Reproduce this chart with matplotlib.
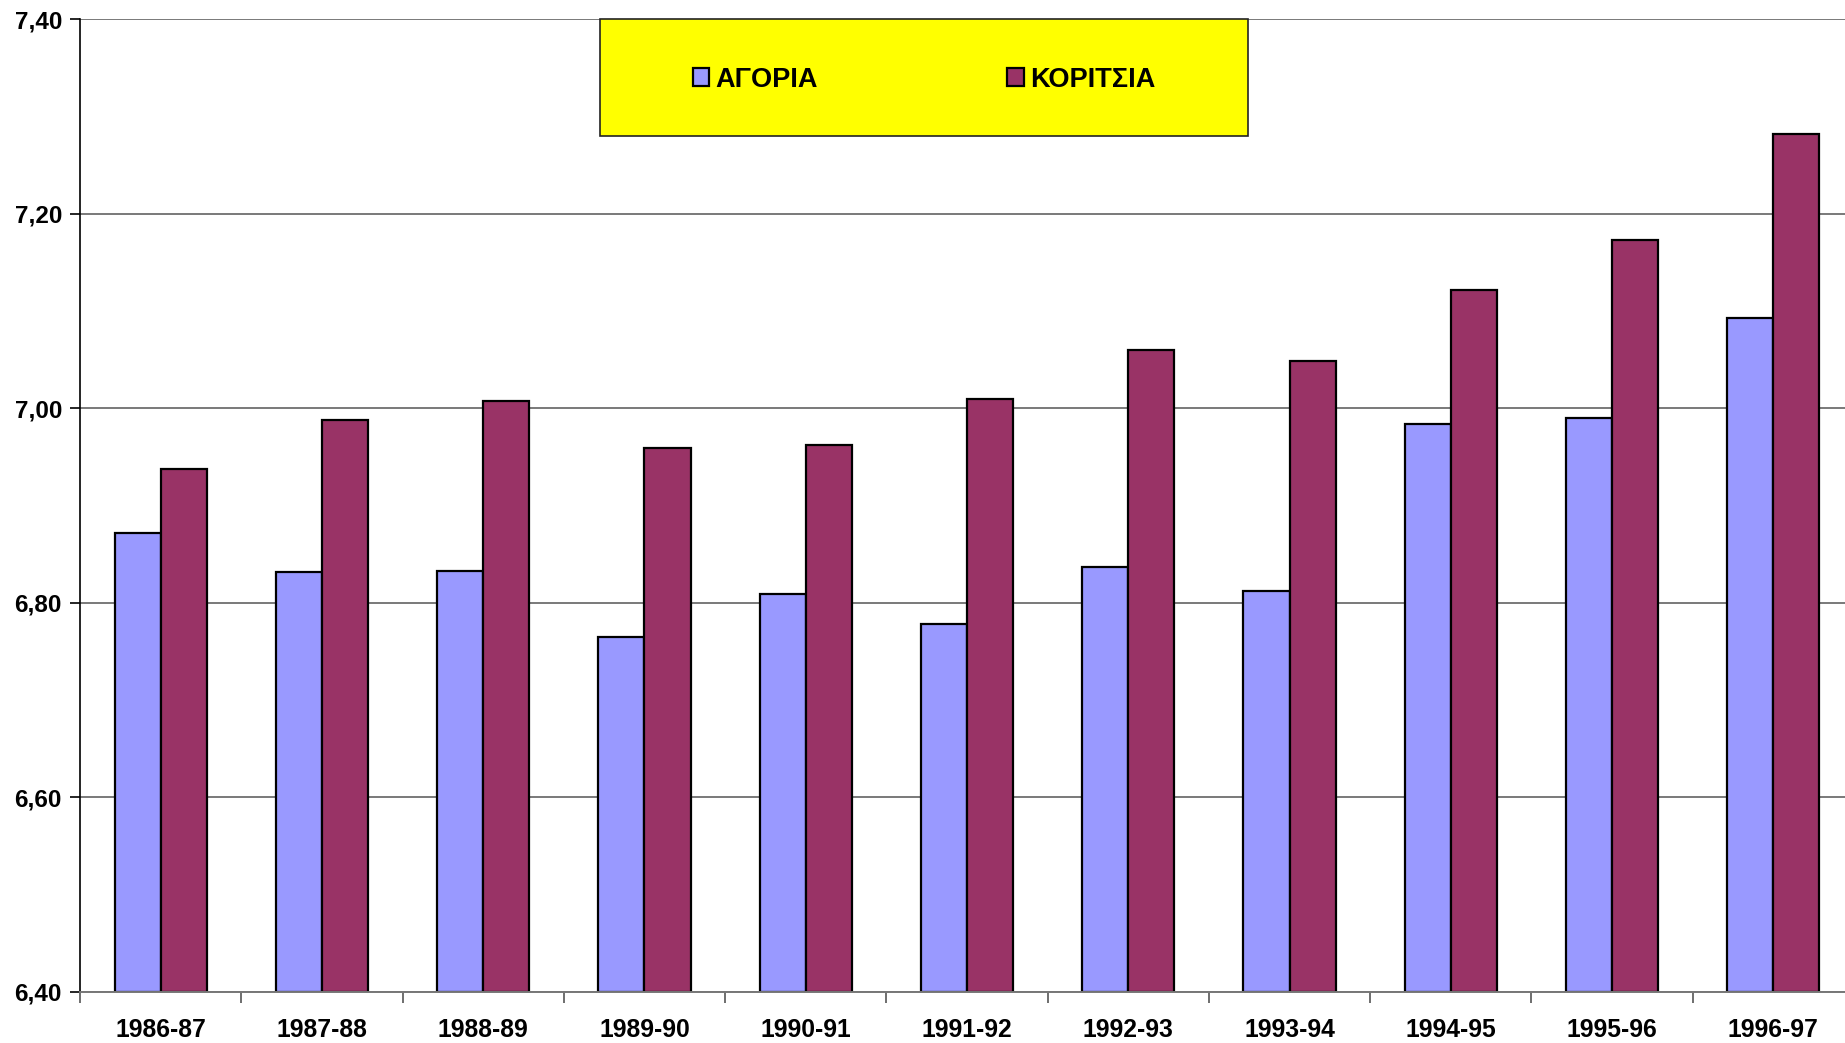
import matplotlib
matplotlib.use("Agg")
import matplotlib.pyplot as plt
import numpy as np
from matplotlib.patches import Rectangle, Patch

plt.rcParams['font.family'] = ['Liberation Sans', 'DejaVu Sans']
plt.rcParams['font.weight'] = 'bold'

categories = ["1986-87", "1987-88", "1988-89", "1989-90", "1990-91", "1991-92",
              "1992-93", "1993-94", "1994-95", "1995-96", "1996-97"]
boys = [6.872, 6.832, 6.833, 6.765, 6.809, 6.778, 6.837, 6.812, 6.984, 6.990, 7.093]
girls = [6.938, 6.988, 7.007, 6.959, 6.962, 7.009, 7.060, 7.048, 7.121, 7.173, 7.282]
series_names = ["ΑΓΟΡΙΑ", "ΚΟΡΙΤΣΙΑ"]
yticks = [6.40, 6.60, 6.80, 7.00, 7.20, 7.40]

c_boys = "#9999FF"
c_girls = "#993366"

W, H = 1845, 1043
fig = plt.figure(figsize=(W / 100, H / 100), dpi=100)
ax = fig.add_axes([80 / W, (H - 992) / H, 1774 / W, 973 / H])

x = np.arange(len(categories))
bw = 1 / 3.5
ax.bar(x - bw / 2, np.array(boys) - 6.40, bw, bottom=6.40, color=c_boys,
       edgecolor="black", linewidth=1.6, zorder=3)
ax.bar(x + bw / 2, np.array(girls) - 6.40, bw, bottom=6.40, color=c_girls,
       edgecolor="black", linewidth=1.6, zorder=3)

ax.set_xlim(-0.5, len(categories) - 0.5)
ax.set_ylim(6.40, 7.40)
ax.set_yticks(yticks)
ax.set_yticklabels([f"{v:.2f}".replace(".", ",") for v in yticks],
                   fontsize=17.5, fontweight="bold")
ax.set_xticks(np.arange(len(categories) + 1) - 0.5)
ax.set_xticklabels([])
ax.set_xticks(x, minor=True)
ax.set_xticklabels(categories, minor=True, fontsize=17.8, fontweight="bold")
ax.tick_params(axis="x", which="major", length=8, width=1.2, color="#555555",
               direction="out")
ax.tick_params(axis="x", which="minor", length=0, pad=19)
ax.tick_params(axis="y", length=7, width=1.2, color="black", direction="out", pad=6)

ax.yaxis.grid(True, color="#555555", linewidth=1.1, zorder=0)
ax.set_axisbelow(True)
for s in ["top", "right"]:
    ax.spines[s].set_visible(False)
ax.spines["left"].set_color("black")
ax.spines["left"].set_linewidth(1.2)
ax.spines["bottom"].set_color("#777777")
ax.spines["bottom"].set_linewidth(1.4)
ax.spines["bottom"].set_zorder(4)

# legend box
bx0, bx1, by0, by1 = 600, 1248, 19, 136
rect = Rectangle((bx0 / W, 1 - by1 / H), (bx1 - bx0) / W, (by1 - by0) / H,
                 transform=fig.transFigure, facecolor="#FFFF00",
                 edgecolor="#222222", linewidth=1.2, zorder=5)
fig.patches.append(rect)
handles = [Patch(facecolor=c_boys, edgecolor="black", linewidth=1.6),
           Patch(facecolor=c_girls, edgecolor="black", linewidth=1.6)]
leg = fig.legend(handles, series_names, loc="center",
                 bbox_to_anchor=((bx0 + bx1) / 2 / W, 1 - (by0 + by1) / 2 / H - 0.002),
                 ncol=2, frameon=False, prop={"size": 19.5, "weight": "bold"},
                 handlelength=0.62, handleheight=0.62, handletextpad=0.22,
                 columnspacing=7.0)
leg.set_zorder(6)

fig.savefig("out.png", dpi=100)
